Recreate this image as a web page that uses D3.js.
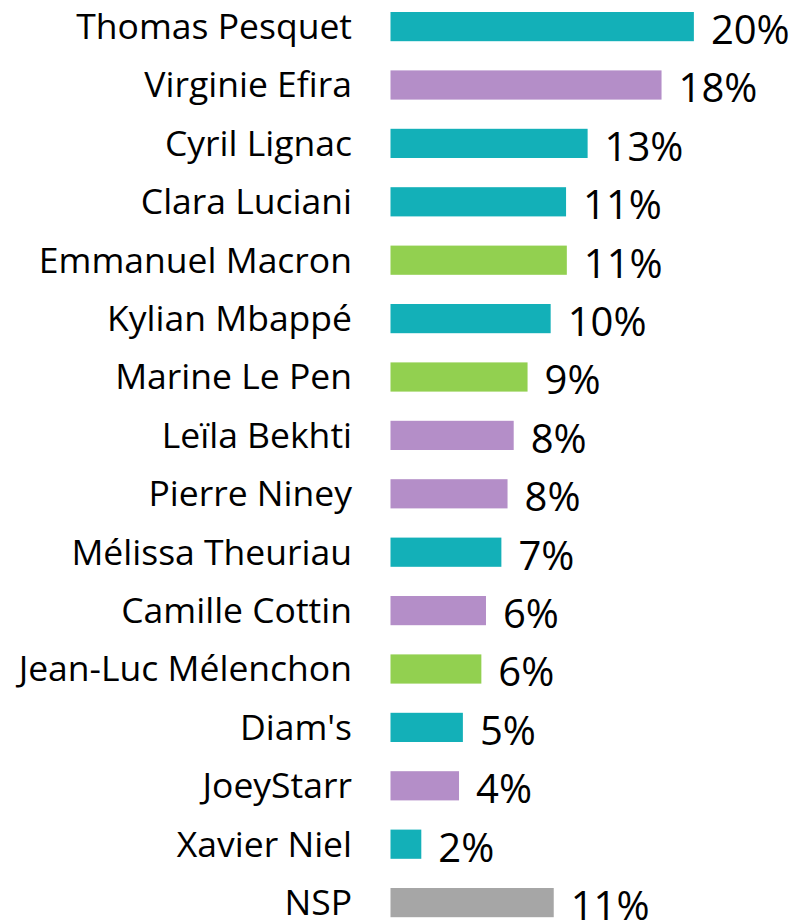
<!DOCTYPE html>
<html>
<head>
<meta charset="utf-8">
<script src="https://cdn.jsdelivr.net/npm/d3@7"></script>
<style>
    html, body { margin: 0; padding: 0; background: #fff; }
    svg text { font-family: "Open Sans", "Noto Sans", sans-serif; fill: #000; }
</style>
</head>
<body>
<div id="chart"></div>
<script>
const names = ["Thomas Pesquet", "Virginie Efira", "Cyril Lignac", "Clara Luciani", "Emmanuel Macron",
    "Kylian Mbappé", "Marine Le Pen", "Leïla Bekhti", "Pierre Niney", "Mélissa Theuriau",
    "Camille Cottin", "Jean-Luc Mélenchon", "Diam's", "JoeyStarr", "Xavier Niel", "NSP"];
const values = [19.7, 17.6, 12.8, 11.4, 11.45, 10.4, 8.9, 8.0, 7.6, 7.2, 6.2, 5.9, 4.7, 4.45, 2.0, 10.6];
const groups = ["medias", "culture", "medias", "medias", "politique", "medias", "politique", "culture",
    "culture", "medias", "culture", "politique", "medias", "culture", "medias", "nsp"];

const colors = {medias: "#13B0B8", culture: "#B48EC8", politique: "#92D050", nsp: "#A6A6A6"};

const width = 799;
const height = 922;
const left = 390.5;

const x = d3.scaleLinear()
    .domain([0, 20])
    .range([0, 308]);
const y = d3.scaleBand()
    .domain(names)
    .range([-2.6, -2.6 + 16 * 58.4])
    .paddingInner(0.5)
    .paddingOuter(0.25);

const svg = d3.select("#chart")
    .append("svg")
    .attr("width", width)
    .attr("height", height);

const rows = svg.selectAll("g.row")
    .data(names)
    .join("g")
    .attr("class", "row")
    .attr("transform", d => "translate(0," + y(d) + ")");

rows.append("rect")
    .attr("x", left)
    .attr("width", (d, i) => x(values[i]))
    .attr("height", y.bandwidth())
    .attr("fill", (d, i) => colors[groups[i]]);

rows.append("text")
    .attr("x", 352)
    .attr("y", y.bandwidth() / 2)
    .attr("dy", "0.35em")
    .attr("text-anchor", "end")
    .style("font-size", "35.5px")
    .text(d => d);

rows.append("text")
    .attr("x", (d, i) => left + x(values[i]) + 17)
    .attr("y", y.bandwidth() / 2 + 3)
    .attr("dy", "0.36em")
    .style("font-size", "40px")
    .text((d, i) => Math.round(values[i]) + "%");
</script>
</body>
</html>
